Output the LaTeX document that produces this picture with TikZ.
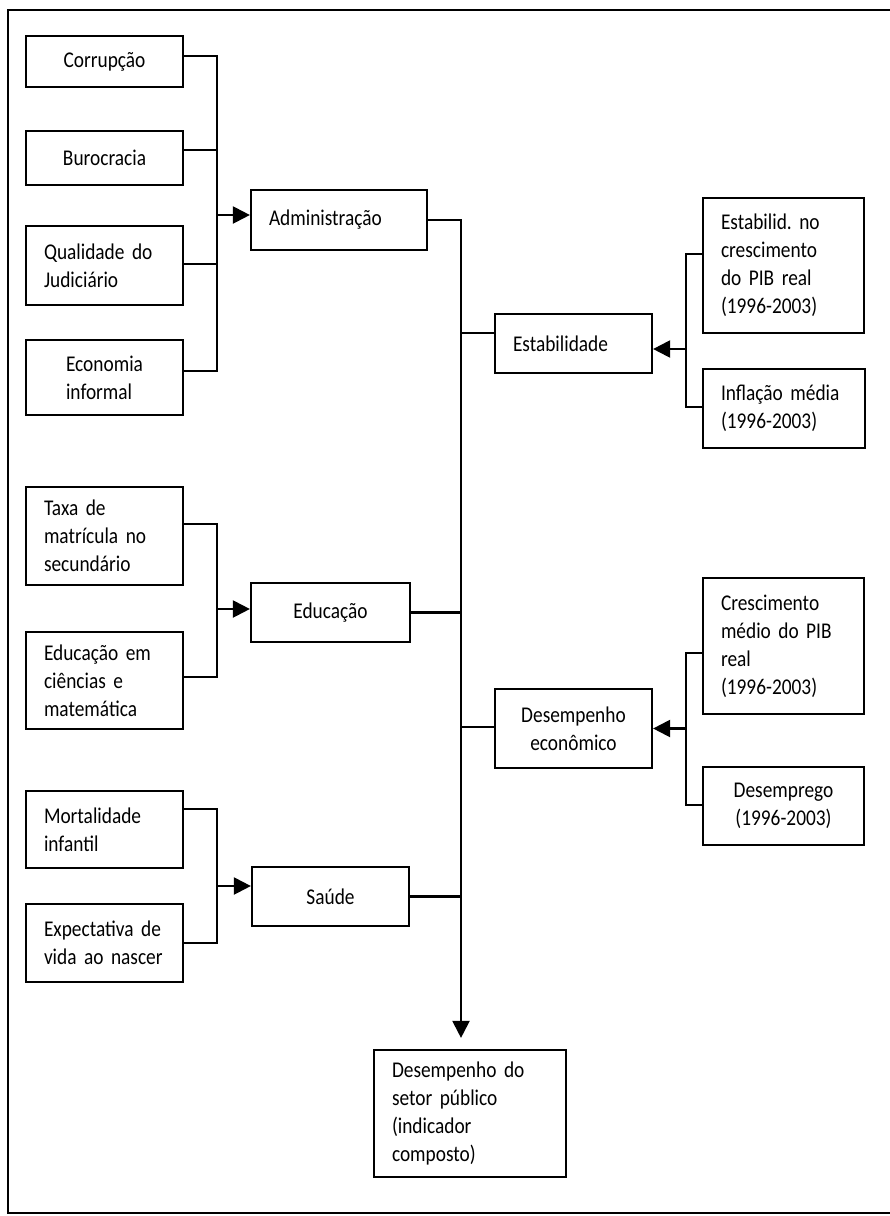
\documentclass[tikz,border=0pt]{standalone}
\usepackage{fontspec}
\setmainfont{Carlito}[FakeStretch=0.86]
\usetikzlibrary{arrows.meta,calc}
\frenchspacing
\tikzset{
  box/.style={draw, line width=2.2pt, inner sep=0pt, font=\fontsize{22.5}{28}\selectfont},
  wh/.style 2 args={minimum width=#1, minimum height=#2},
  cbox/.style 2 args={box, wh={#1}{#2}, align=center},
  lbox/.style 2 args={box, wh={#1}{#2}, align=left, text width=#1-36pt},
  bbox/.style 2 args={box, wh={#1}{#2}, align=left},
  ln/.style={line width=2.2pt},
  arr/.style={line width=2.2pt, -{Triangle[length=17pt,width=17pt]}},
  frame/.style={line width=2.2pt}
}
\begin{document}
\begin{tikzpicture}[x=1pt,y=-1pt]
\useasboundingbox (0,0) rectangle (890,1216);
\draw[frame] (890,10) -- (8,10) -- (8,1213) -- (890,1213);

% bus positions
\coordinate (lx) at (217,0);
\coordinate (mx) at (461,0);
\coordinate (rx) at (686,0);

% left column
\node[cbox={157pt}{51pt}] (corr) at (104.5,61.5) {Corrupção};
\node[cbox={157pt}{54pt}] (buro) at (104.5,158) {Burocracia};
\node[lbox={157pt}{79pt}] (qual) at (104.5,265.5) {Qualidade do\\Judiciário};
\node[bbox={157pt}{75pt}] (econ) at (104.5,377.5) {Economia\\informal};
\node[lbox={157pt}{98pt}] (taxa) at (104.5,536) {Taxa de\\matrícula no\\secundário};
\node[lbox={157pt}{97pt}] (educ2) at (104.5,680.5) {Educação em\\ciências e\\matemática};
\node[lbox={157pt}{77pt}] (mort) at (104.5,829.5) {Mortalidade\\infantil};
\node[lbox={157pt}{78pt}] (expe) at (104.5,943) {Expectativa de\\vida ao nascer};

% middle column
\node[lbox={176pt}{60pt}] (admin) at (339,220) {Administração};
\node[cbox={159pt}{59pt}] (educ) at (330.5,612.5) {Educação};
\node[cbox={157pt}{59pt}] (saude) at (330.5,896.5) {Saúde};

% right-middle column
\node[lbox={157pt}{59pt}] (estab) at (573.5,343.5) {Estabilidade};
\node[cbox={157pt}{79pt}] (desemp) at (573.5,728.5) {Desempenho\\econômico};

% right column
\node[lbox={161pt}{135pt}] (estg) at (783.5,265.5) {Estabilid. no\\crescimento\\do PIB real\\(1996-2003)};
\node[lbox={162pt}{79pt}] (infl) at (784,408.5) {Inflação média\\(1996-2003)};
\node[lbox={161pt}{136pt}] (cresc) at (783.5,646) {Crescimento\\médio do PIB\\real\\(1996-2003)};
\node[cbox={161pt}{78pt}] (desemprego) at (783.5,806) {Desemprego\\(1996-2003)};

% final
\node[lbox={192pt}{127pt}] (final) at (470,1113.5) {Desempenho do\\setor público\\(indicador\\composto)};

% administration group
\draw[ln] ([yshift=5.5pt]corr.east) -| ([yshift=6.5pt]econ.east -| lx) -- ([yshift=6.5pt]econ.east);
\draw[ln] ([yshift=8pt]buro.east) -- ([yshift=8pt]buro.east -| lx);
\draw[ln] ([yshift=1.5pt]qual.east) -- ([yshift=1.5pt]qual.east -| lx);
\draw[arr] ([yshift=5pt]admin.west -| lx) -- ([yshift=5pt]admin.west);

% education group
\draw[ln] ([yshift=12pt]taxa.east) -| ([yshift=3.5pt]educ2.east -| lx) -- ([yshift=3.5pt]educ2.east);
\draw[arr] ([yshift=3.5pt]educ.west -| lx) -- ([yshift=3.5pt]educ.west);

% health group
\draw[ln] ([yshift=20.5pt]mort.east) -| (expe.east -| lx) -- (expe.east);
\draw[arr] ([yshift=10.5pt]saude.west -| lx) -- ([yshift=10.5pt]saude.west);

% stability group
\draw[ln] ([yshift=11.5pt]estg.west) -| ([yshift=1.5pt]infl.west -| rx) -- ([yshift=1.5pt]infl.west);
\draw[arr] ([yshift=-5.5pt]estab.east -| rx) -- ([yshift=-5.5pt]estab.east);

% economic performance group
\draw[ln] ([yshift=-7pt]cresc.west) -| ([yshift=1pt]desemprego.west -| rx) -- ([yshift=1pt]desemprego.west);
\draw[arr] (desemp.east -| rx) -- (desemp.east);

% main bus
\draw[arr, shorten >=11pt] (admin.east) -| (final.north -| mx);
\draw[ln] ([yshift=10.5pt]estab.west -| mx) -- ([yshift=10.5pt]estab.west);
\draw[ln] (educ.east) -- (educ.east -| mx);
\draw[ln] ([yshift=1.5pt]desemp.west -| mx) -- ([yshift=1.5pt]desemp.west);
\draw[ln] (saude.east) -- (saude.east -| mx);
\end{tikzpicture}
\end{document}
